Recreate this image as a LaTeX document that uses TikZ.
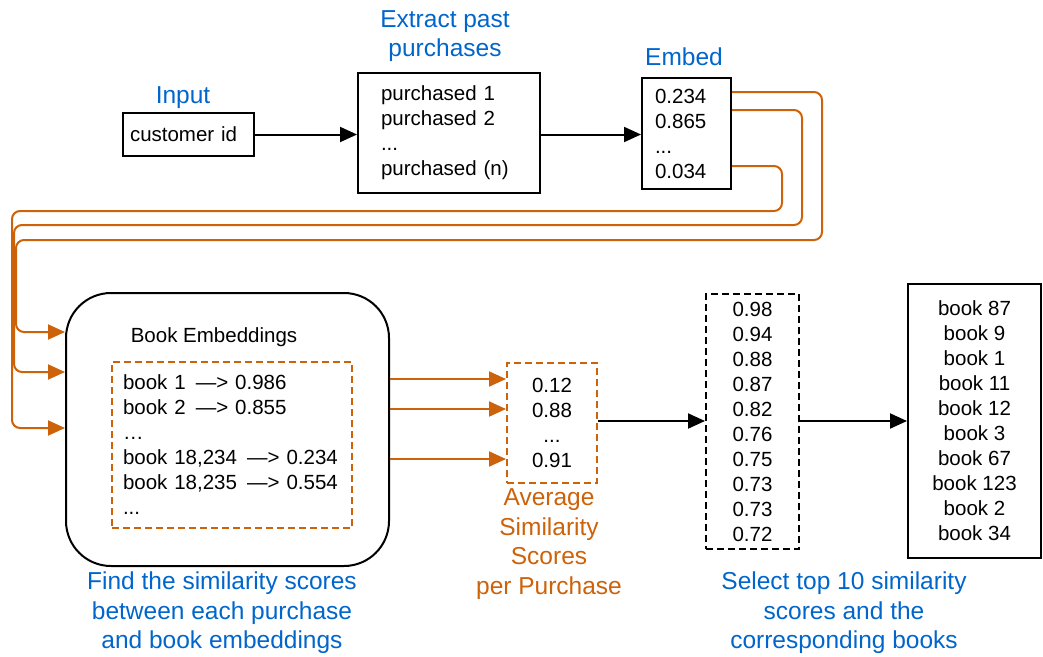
\documentclass[tikz,border=0pt]{standalone}
\usepackage{fontspec}
\setmainfont{Liberation Sans}
\usetikzlibrary{arrows.meta}
\definecolor{flowblue}{RGB}{0,102,204}
\definecolor{flowor}{RGB}{204,98,10}
\tikzset{
  body/.style={font=\fontsize{20.5}{25}\selectfont},
  title/.style={font=\fontsize{24.5}{29.5}\selectfont, text=flowblue, align=center, inner sep=0pt},
  box/.style={draw=black, line width=2pt, inner ysep=0pt, body},
  dbox/.style={draw=black, line width=2pt, dash pattern=on 7pt off 4pt, inner ysep=0pt, body},
  obox/.style={draw=flowor, line width=2pt, dash pattern=on 7pt off 4pt, inner ysep=0pt, body},
  tip/.style={-{Triangle[length=17pt,width=15pt]}},
  blk/.style={tip, draw=black, line width=2pt},
  orn/.style={tip, draw=flowor, line width=2pt, rounded corners=8pt},
}
\begin{document}
\begin{tikzpicture}[x=1pt,y=-1pt]
\useasboundingbox (0,0) rectangle (1043,656);

% input, extraction and embedding
\node[box, anchor=north west, minimum width=131pt, minimum height=43pt,
      text width=117pt, inner xsep=7pt, align=left] (cid) at (122,112) {customer id};
\node[box, anchor=north west, minimum width=182pt, minimum height=120pt,
      text width=136pt, inner xsep=23pt, align=left] (ext) at (357,72)
  {purchased 1\\purchased 2\\...\\purchased (n)};
\node[box, anchor=north west, minimum width=89pt, minimum height=111pt,
      text width=63pt, inner xsep=13pt, align=left] (emb) at (641,77)
  {0.234\\0.865\\...\\0.034};

\node[title] (tin) at (183,98) {Input};
\node[title] (text) at (445,36) {Extract past\\purchases};
\node[title] (temb) at (684,57) {Embed};

\draw[blk] (cid.east) -- (ext.west |- cid.east);
\draw[blk] (ext.east |- cid.east) -- (emb.west |- cid.east);

% book embeddings
\node[draw=black, line width=2pt, rounded corners=45pt, anchor=north west,
      minimum width=323pt, minimum height=273pt] (big) at (65,292) {};
\node[body, inner sep=0pt] (bet) at (214,337) {Book Embeddings};
\node[obox, anchor=north west, minimum width=240pt, minimum height=166pt,
      text width=218pt, inner xsep=11pt, align=left] (list) at (111,361)
  {book 1 \,---> 0.986\\book 2 \,---> 0.855\\\dots\\book 18,234 \,---> 0.234\\book 18,235 \,---> 0.554\\...};

% feedback of the embedded purchases
\draw[orn] (emb.east |- 0,92) -- (822,92) -- (822,240) -- (16,240) -- (16,332) -- (big.west |- 0,332);
\draw[orn] (emb.east |- 0,110) -- (802,110) -- (802,225) -- (14,225) -- (14,372) -- (big.west |- 0,372);
\draw[orn] (emb.east |- 0,166) -- (782,166) -- (782,211) -- (12,211) -- (12,428) -- (big.west |- 0,428);

% average similarity per purchase
\node[obox, anchor=north west, minimum width=90pt, minimum height=120pt,
      align=center] (avg) at (506,362) {0.12\\0.88\\...\\0.91};
\node[title, text=flowor] (tavg) at (549,544) {Average\\Similarity\\Scores\\per Purchase};

\draw[orn] (big.east |- 0,379) -- (avg.west |- 0,379);
\draw[orn] (big.east |- 0,409) -- (avg.west |- 0,409);
\draw[orn] (big.east |- 0,459) -- (avg.west |- 0,459);

% top ten scores and books
\node[dbox, anchor=north west, minimum width=93pt, minimum height=255pt,
      align=center] (top) at (705,293)
  {0.98\\0.94\\0.88\\0.87\\0.82\\0.76\\0.75\\0.73\\0.73\\0.72};
\node[box, anchor=north west, minimum width=133pt, minimum height=274pt,
      align=center] (books) at (907,283)
  {book 87\\book 9\\book 1\\book 11\\book 12\\book 3\\book 67\\book 123\\book 2\\book 34};

\draw[blk] (avg.east |- 0,421) -- (top.west |- 0,421);
\draw[blk] (top.east |- 0,421) -- (books.west |- 0,421);

\node[title] (tfind) at (222,613) {Find the similarity scores\\between each purchase\\and book embeddings};
\node[title] (tsel) at (844,613) {Select top 10 similarity\\scores and the\\corresponding books};
\end{tikzpicture}
\end{document}
